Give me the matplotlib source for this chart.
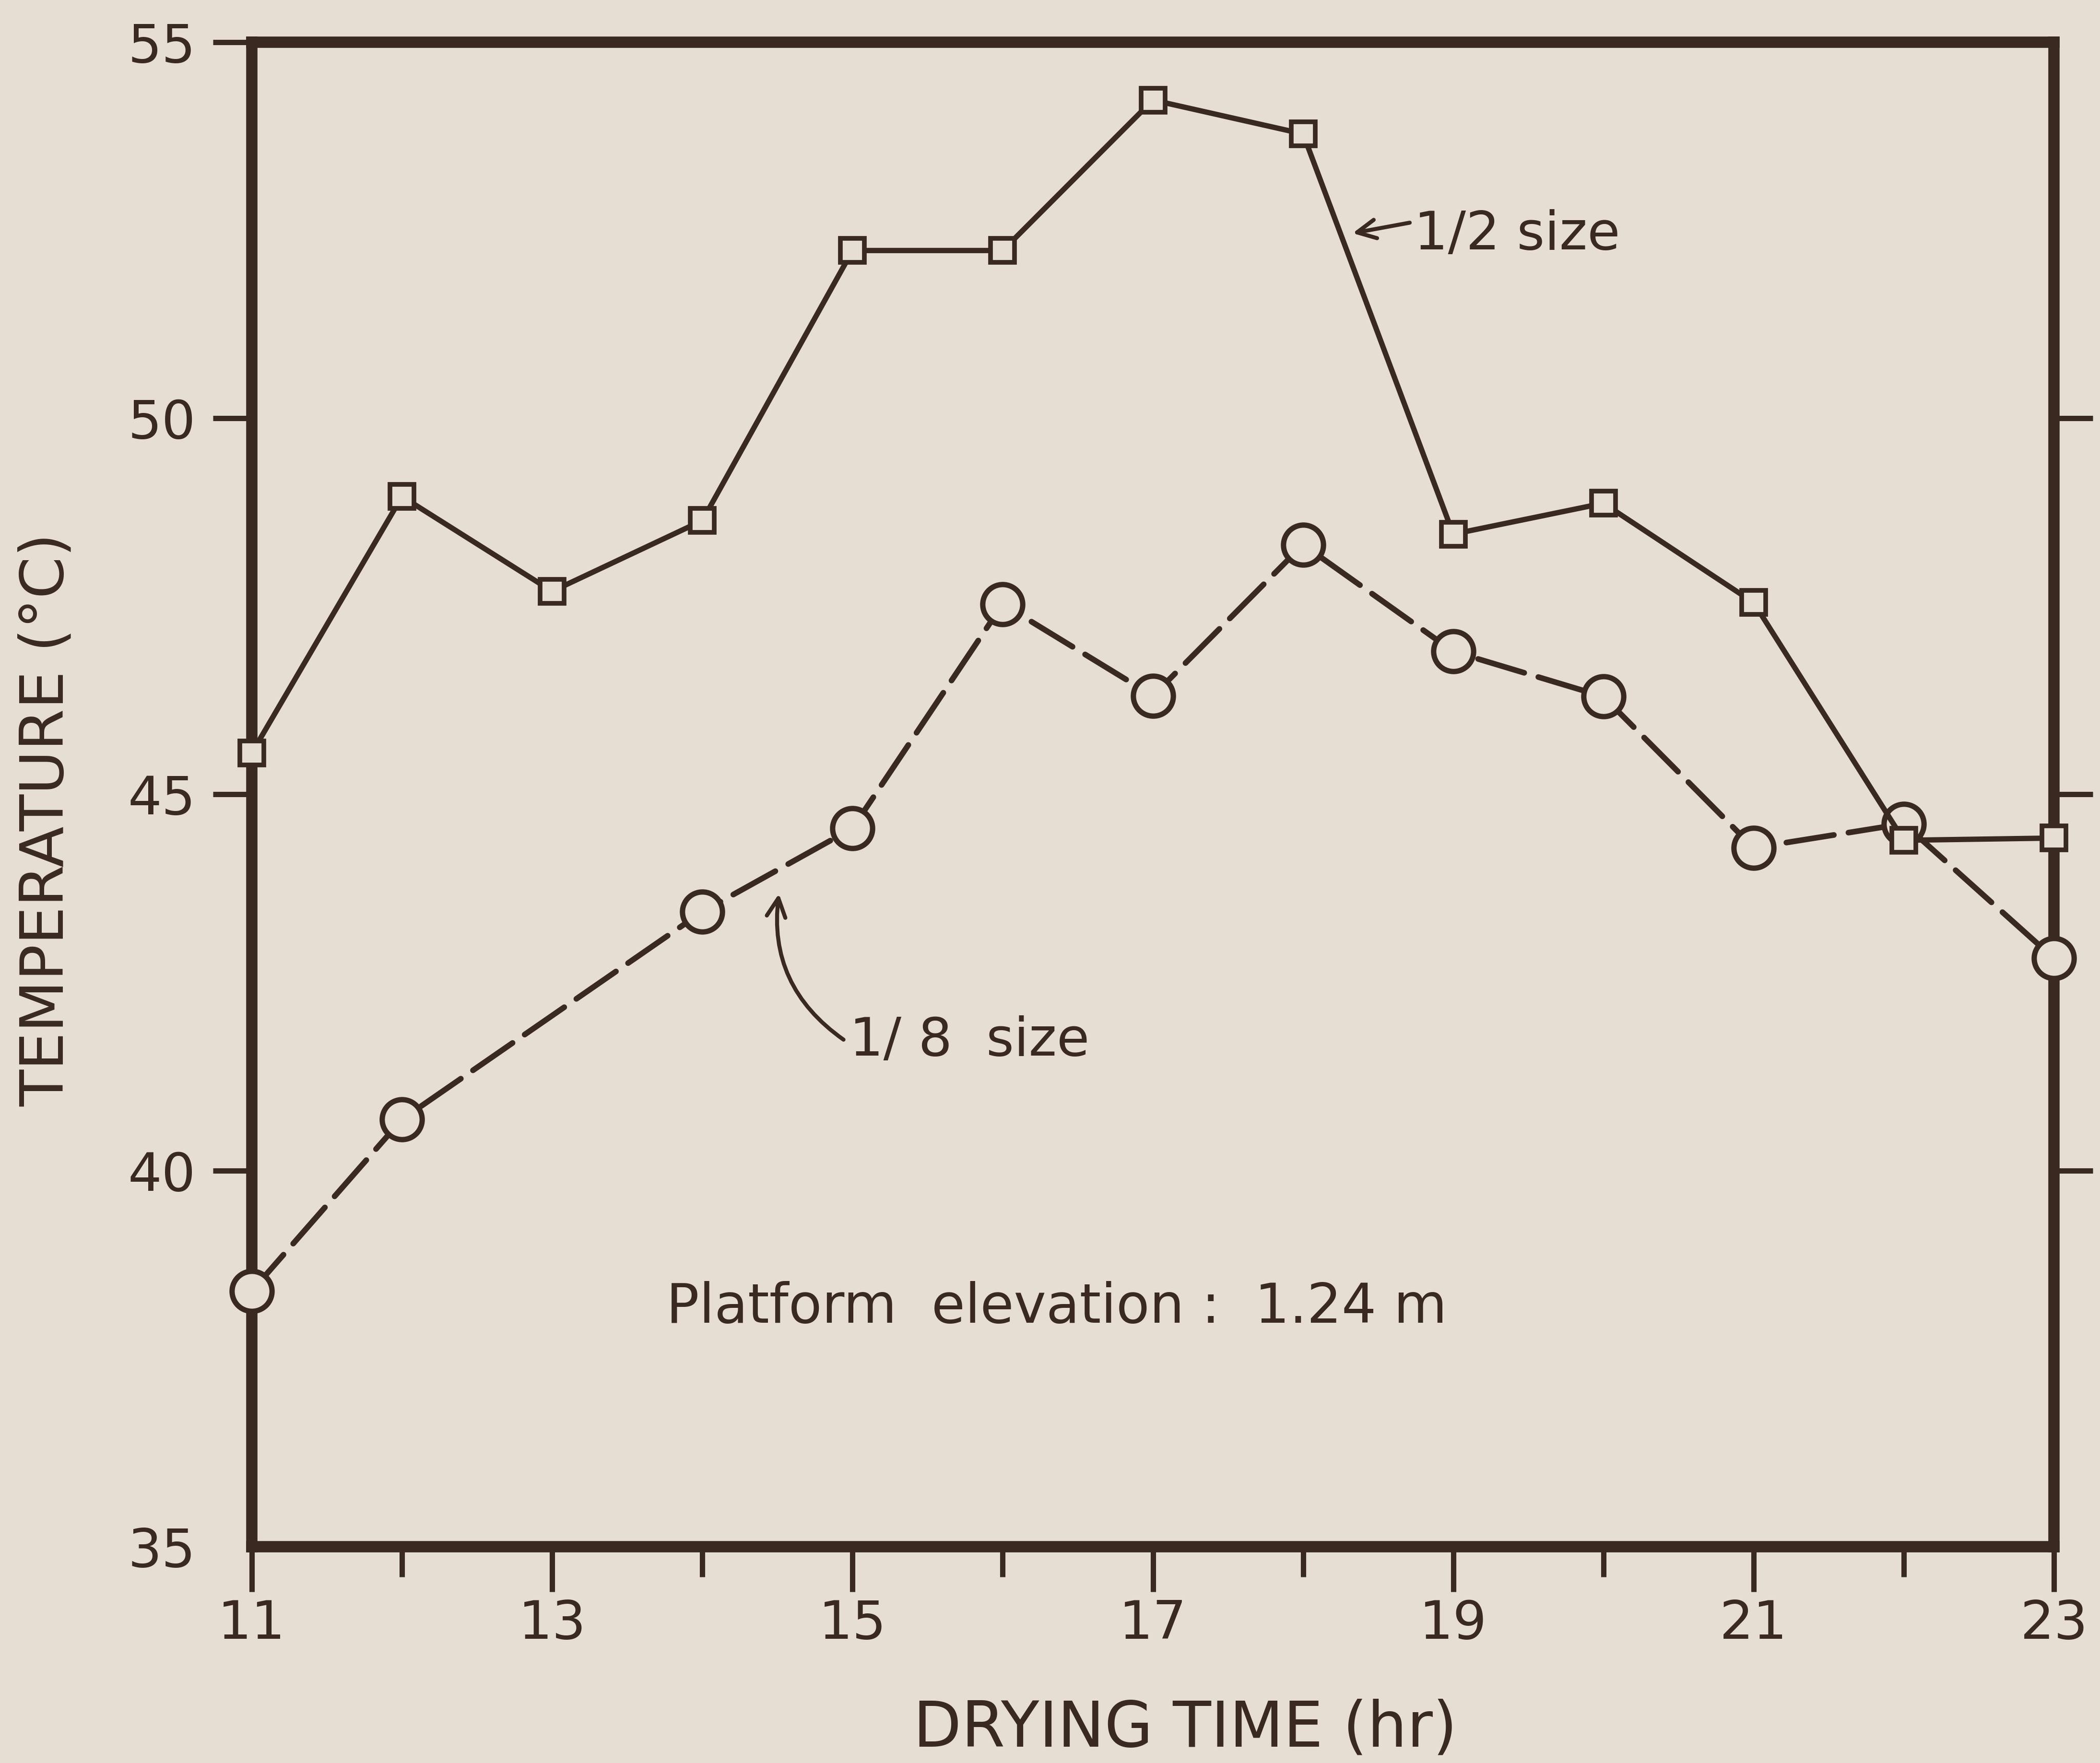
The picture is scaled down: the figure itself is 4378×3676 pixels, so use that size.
import matplotlib
matplotlib.use('Agg')
import matplotlib.pyplot as plt

# ---- data ----
hours_half = [11, 12, 13, 14, 15, 16, 17, 18, 19, 20, 21, 22, 23]
temp_half = [45.55, 48.96, 47.70, 48.64, 52.23, 52.23, 54.23, 53.78, 48.46, 48.87, 47.55, 44.39, 44.42]

hours_eighth = [11, 12, 14, 15, 16, 17, 18, 19, 20, 21, 22, 23]
temp_eighth = [38.40, 40.68, 43.44, 44.55, 47.53, 46.31, 48.32, 46.90, 46.30, 44.29, 44.61, 42.82]

major_hours = [11, 13, 15, 17, 19, 21, 23]
minor_hours = [12, 14, 16, 18, 20, 22]
y_ticks = [35, 40, 45, 50, 55]

label_half = '1/2 size'
label_eighth = '1/ 8  size'
note_text = 'Platform  elevation :  1.24 m'
x_label = 'DRYING TIME (hr)'
y_label = 'TEMPERATURE (°C)'

BG = '#e6ded2'
INK = '#3a2920'

plt.rcParams['font.family'] = ['DejaVu Sans']

fig = plt.figure(figsize=(43.78, 36.76), dpi=100, facecolor=BG)
ax = fig.add_axes([0.1199, 0.1227, 0.8582, 0.8534], facecolor=BG)

ax.plot(hours_eighth, temp_eighth, color=INK, lw=8.5, ls=(0, (8.5, 2.6)),
        dash_capstyle='round',
        marker='o', ms=60, mfc=BG, mec=INK, mew=8, zorder=4, clip_on=False)
ax.plot(hours_half, temp_half, color=INK, lw=8, ls='-',
        marker='s', ms=36, mfc=BG, mec=INK, mew=7, zorder=5, clip_on=False)

ax.set_xlim(11, 23)
ax.set_ylim(35, 55)

for s in ax.spines.values():
    s.set_linewidth(17)
    s.set_color(INK)
    s.set_capstyle('projecting')

ax.set_xticks(major_hours)
ax.set_xticks(minor_hours, minor=True)
ax.set_xticklabels([str(h) for h in major_hours])
ax.set_yticks(y_ticks)
ax.set_yticklabels([str(v) for v in y_ticks])

ax.tick_params(axis='x', which='major', direction='out', length=68, width=8,
               pad=10, labelsize=80, colors=INK, top=False)
ax.tick_params(axis='x', which='minor', direction='out', length=45, width=8,
               colors=INK, top=False)
ax.tick_params(axis='y', which='major', direction='out', length=58, width=8,
               pad=26, labelsize=80, colors=INK, left=True, right=True,
               labelleft=True, labelright=False)

for t, v in zip(ax.yaxis.get_major_ticks(), y_ticks):
    if v == 35:
        t.tick1line.set_visible(False)
        t.tick2line.set_visible(False)
    if v == 55:
        t.tick2line.set_visible(False)

fig.text(0.0223, 0.535, y_label, rotation=90, ha='center', va='center',
         fontsize=90, color=INK)
fig.text(0.5644, 0.002, x_label, ha='center', va='bottom',
         fontsize=94, color=INK)

# annotations
ax.annotate('', xy=(18.33, 52.46), xytext=(18.71, 52.60),
            arrowprops=dict(arrowstyle='->,head_length=0.7,head_width=0.35',
                            mutation_scale=40, lw=6, color=INK,
                            shrinkA=0, shrinkB=0))
ax.text(18.74, 52.44, label_half, ha='left', va='center', fontsize=80, color=INK)

ax.annotate('', xy=(14.51, 43.68), xytext=(14.94, 41.74),
            arrowprops=dict(arrowstyle='->,head_length=0.7,head_width=0.35',
                            mutation_scale=40, lw=6, color=INK,
                            connectionstyle='arc3,rad=-0.3',
                            shrinkA=0, shrinkB=0))
ax.text(14.98, 41.72, label_eighth, ha='left', va='center', fontsize=80, color=INK)

ax.text(13.76, 38.18, note_text, ha='left', va='center', fontsize=82, color=INK)

fig.savefig('out.png', dpi=100, facecolor=BG)
